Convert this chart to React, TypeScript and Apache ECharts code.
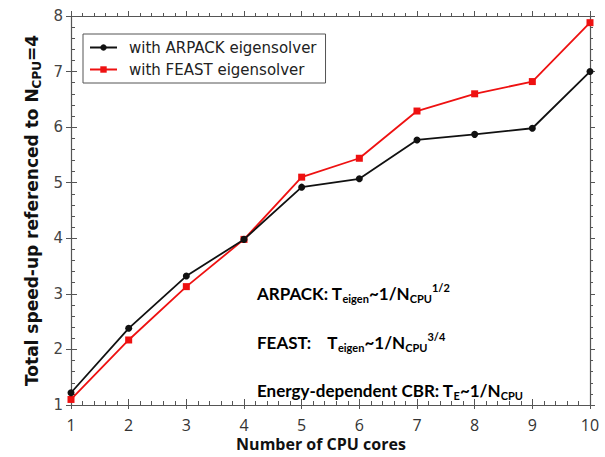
import React, { useEffect, useRef } from "react";
import * as echarts from "echarts";

const cores = [1, 2, 3, 4, 5, 6, 7, 8, 9, 10];
const arpack = [1.22, 2.38, 3.32, 3.98, 4.92, 5.07, 5.77, 5.87, 5.98, 7.0];
const feast = [1.1, 2.17, 3.13, 3.98, 5.1, 5.44, 6.29, 6.6, 6.82, 7.88];
const seriesNames = ["with ARPACK eigensolver", "with FEAST eigensolver"];
const xTitle = "Number of CPU cores";

const annFont = "Lato, 'Open Sans', sans-serif";
const annRich = (color: string) => ({
  a: { fontSize: 17, fontWeight: "bold", fontFamily: annFont, color, lineHeight: 22, verticalAlign: "middle" },
  sub: { fontSize: 11, fontWeight: "bold", fontFamily: annFont, color, lineHeight: 12, verticalAlign: "bottom" },
  sup: { fontSize: 11, fontWeight: "bold", fontFamily: annFont, color, lineHeight: 12, verticalAlign: "top" },
});

export default function App() {
  const ref = useRef<HTMLDivElement>(null);
  useEffect(() => {
    const chart = echarts.init(ref.current!, undefined, { renderer: "svg" });
    const axisColor = "#555";
    chart.setOption({
      animation: false,
      backgroundColor: "#fff",
      grid: { left: 71, right: 15, top: 16, bottom: 52, containLabel: false, outerBoundsMode: "none" },
      legend: {
        data: seriesNames,
        orient: "vertical",
        left: 83,
        top: 34,
        padding: [6, 9, 6, 6],
        itemGap: 7,
        itemWidth: 27,
        itemHeight: 8,
        borderColor: "#555",
        borderWidth: 1,
        textStyle: { fontFamily: "DejaVu Sans", fontSize: 15, color: "#222", padding: [0, 0, 0, 7] },
      },
      xAxis: [
        {
          type: "value", min: 1, max: 10, interval: 1, position: "bottom",
          axisLine: { lineStyle: { color: axisColor, width: 1.2 } },
          axisTick: { inside: true, length: 6, lineStyle: { color: axisColor } },
          minorTick: { show: true, splitNumber: 5, length: 4, lineStyle: { color: axisColor } },
          splitLine: { show: false },
          axisLabel: { fontFamily: "'Open Sans', sans-serif", fontSize: 16, color: "#333", margin: 12 },
        },
        {
          type: "value", min: 1, max: 10, interval: 1, position: "bottom", gridIndex: 0,
          axisLine: { show: false },
          axisTick: { inside: false, length: 4, lineStyle: { color: axisColor } },
          axisLabel: { show: false }, splitLine: { show: false },
        },
        {
          type: "value", min: 1, max: 10, interval: 1, position: "top",
          axisLine: { lineStyle: { color: axisColor, width: 1.2 } },
          axisTick: { inside: false, length: 5, lineStyle: { color: axisColor } },
          minorTick: { show: true, splitNumber: 5, length: 3, lineStyle: { color: axisColor } },
          axisLabel: { show: false }, splitLine: { show: false },
        },
      ],
      yAxis: [
        {
          type: "value", min: 1, max: 8, interval: 1, position: "left",
          axisLine: { show: true, lineStyle: { color: axisColor, width: 1.2 } },
          axisTick: { show: true, inside: true, length: 6, lineStyle: { color: axisColor } },
          minorTick: { show: true, splitNumber: 5, length: 4, lineStyle: { color: axisColor } },
          splitLine: { show: false },
          axisLabel: { fontFamily: "DejaVu Sans", fontSize: 15, color: "#444", margin: 8 },
          name: "{a|Total speed-up referenced to N}{sub|CPU}{a|=4}",
          nameLocation: "middle",
          nameGap: 27,
          nameTextStyle: {
            rich: {
              a: { fontFamily: "DejaVu Sans", fontWeight: "bold", fontSize: 17, color: "#111", lineHeight: 22, verticalAlign: "middle" },
              sub: { fontFamily: "DejaVu Sans", fontWeight: "bold", fontSize: 12, color: "#111", lineHeight: 12, verticalAlign: "bottom" },
            },
          },
        },
        {
          type: "value", min: 1, max: 8, interval: 1, position: "left",
          axisLine: { show: false },
          axisTick: { show: true, inside: false, length: 5, lineStyle: { color: axisColor } },
          axisLabel: { show: false }, splitLine: { show: false },
        },
        {
          type: "value", min: 1, max: 8, interval: 1, position: "right",
          axisLine: { show: true, lineStyle: { color: axisColor, width: 1.2 } },
          axisTick: { show: true, inside: false, length: 5, lineStyle: { color: axisColor } },
          minorTick: { show: true, splitNumber: 5, length: 3, lineStyle: { color: axisColor } },
          axisLabel: { show: false }, splitLine: { show: false },
        },
      ],
      series: [
        {
          name: seriesNames[0], type: "line",
          data: cores.map((c, i) => [c, arpack[i]]),
          symbol: "circle", symbolSize: 7,
          lineStyle: { color: "#111", width: 1.8 },
          itemStyle: { color: "#111" },
          z: 3,
        },
        {
          name: seriesNames[1], type: "line",
          data: cores.map((c, i) => [c, feast[i]]),
          symbol: "rect", symbolSize: 7,
          lineStyle: { color: "#ee1111", width: 1.8 },
          itemStyle: { color: "#ee1111" },
          z: 2,
        },
      ],
      graphic: [
        {
          type: "text", x: 321, y: 444,
          style: {
            text: xTitle,
            fontFamily: "'Open Sans', sans-serif", fontWeight: "bold", fontSize: 16,
            fill: "#111", align: "center", verticalAlign: "middle",
          },
        },
        {
          type: "text", x: 257, y: 293,
          style: {
            text: "{a|ARPACK: T}{sub|eigen}{a|~1/N}{sub|CPU}{sup|1/2}",
            rich: annRich("#111"), verticalAlign: "middle",
          },
        },
        {
          type: "text", x: 257, y: 342,
          style: {
            text: "{a|FEAST:    T}{sub|eigen}{a|~1/N}{sub|CPU}{sup|3/4}",
            rich: annRich("#111"), verticalAlign: "middle",
          },
        },
        {
          type: "text", x: 257, y: 390,
          style: {
            text: "{a|Energy-dependent CBR: T}{sub|E}{a|~1/N}{sub|CPU}",
            rich: annRich("#2eab4c"), verticalAlign: "middle",
          },
        },
      ],
    });
    return () => chart.dispose();
  }, []);
  return <div ref={ref} style={{ width: 605, height: 457, position: "absolute", left: 0, top: 0 }} />;
}
